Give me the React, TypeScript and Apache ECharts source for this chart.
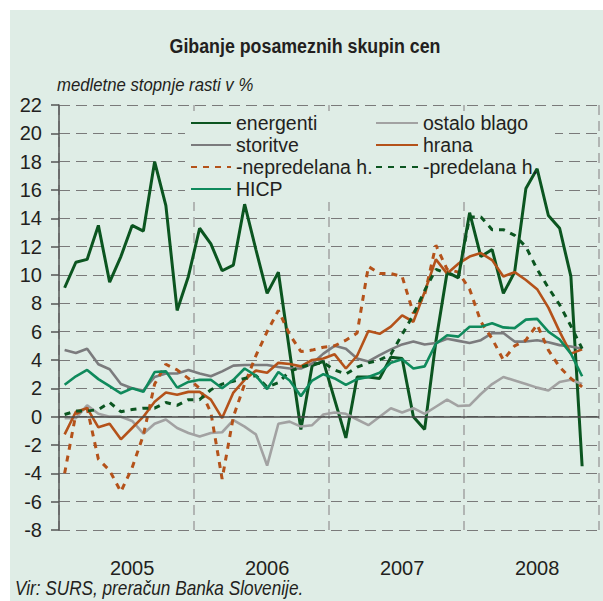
import React, { useEffect, useRef } from "react";
import * as echarts from "echarts";

const YEARS = ["2005", "2006", "2007", "2008"];
const MONTHS = ["01", "02", "03", "04", "05", "06", "07", "08", "09", "10", "11", "12"];
const CATEGORIES = YEARS.flatMap((y) => MONTHS.map((m) => `${y}-${m}`));

const ENERGENTI = [
  9.1, 10.9, 11.1, 13.5, 9.5, 11.3, 13.5, 13.1, 18.0, 14.9, 7.5, 9.9,
  13.3, 12.2, 10.3, 10.7, 15.0, 11.8, 8.7, 10.2, 4.6, -0.9, 3.6, 3.9,
  1.2, -1.5, 2.8, 2.8, 2.7, 4.2, 4.1, 0.0, -0.9, 5.3, 10.2, 9.8,
  14.4, 11.3, 11.8, 8.7, 10.2, 16.1, 17.5, 14.2, 13.3, 9.9, -3.5,
];
const OSTALO_BLAGO = [
  -0.1, -0.1, 0.8, 0.2, 0.0, 0.0, -0.3, -1.2, -0.5, -0.2, -0.8, -1.15,
  -1.4, -1.15, -1.1, -0.25, -0.7, -1.25, -3.45, -0.5, -0.35, -0.7, -0.6, 0.15,
  0.3, 0.2, -0.2, -0.6, 0.0, 0.6, 0.3, 0.6, 0.2, 0.7, 1.2, 0.75,
  0.8, 1.6, 2.3, 2.8, 2.55, 2.3, 2.05, 1.85, 2.45, 2.6, 2.3,
];
const STORITVE = [
  4.7, 4.5, 4.8, 3.7, 3.35, 2.3, 2.0, 1.85, 2.8, 3.05, 3.05, 3.3,
  3.05, 2.85, 3.2, 3.6, 3.65, 3.65, 3.65, 3.5, 3.4, 3.4, 3.75, 4.45,
  5.0, 4.8, 4.1, 3.9, 4.35, 4.75, 5.1, 5.3, 5.1, 5.2, 5.5, 5.35,
  5.2, 5.4, 5.9, 5.9, 5.3, 5.3, 5.4, 5.25, 5.05, 4.95, 4.8,
];
const HRANA = [
  -1.25, 0.35, 0.6, -0.75, -0.5, -1.6, -0.8, 0.0, 1.05, 1.7, 1.55, 1.75,
  1.75, 1.2, -0.1, 1.7, 2.6, 3.25, 3.1, 3.8, 3.72, 3.55, 4.0, 4.1,
  4.4, 3.4, 4.3, 6.05, 5.85, 6.35, 7.15, 6.7, 8.8, 11.1, 10.1, 10.8,
  11.3, 11.55, 11.05, 9.9, 10.2, 9.65, 9.0, 7.7, 6.0, 4.45, 4.75,
];
const NEPREDELANA_H = [
  -4.0, 0.2, 0.6, -3.0, -3.8, -5.3, -3.6, -1.3, 2.3, 3.7, 3.3, 2.7,
  2.0, 0.3, -4.4, 0.0, 2.3, 4.3, 6.0, 7.5, 5.8, 4.6, 4.7, 4.9,
  5.0, 5.4, 5.9, 10.6, 10.1, 10.1, 9.9, 7.3, 8.6, 12.1, 10.4, 10.2,
  9.0, 6.7, 5.5, 4.0, 5.0, 5.4, 6.5, 4.7, 3.5, 2.7, 2.1,
];
const PREDELANA_H = [
  0.15, 0.4, 0.4, 0.5, 1.0, 0.35, 0.5, 0.6, 0.6, 1.0, 0.8, 1.2,
  1.2, 1.9, 2.3, 2.5, 2.7, 2.9, 2.1, 2.4, 3.2, 3.5, 3.7, 3.8,
  3.3, 3.0, 3.5, 3.8, 4.0, 4.4, 5.8, 7.2, 8.9, 10.4, 10.1, 9.9,
  14.1, 14.1, 13.2, 13.2, 12.8, 12.0, 10.4, 9.1, 7.9, 6.4, 4.8,
];
const HICP = [
  2.25, 2.85, 3.3, 2.65, 2.15, 1.65, 2.0, 1.75, 3.15, 3.2, 2.05, 2.45,
  2.6, 2.6, 2.0, 2.6, 3.4, 2.9, 1.95, 3.15, 2.55, 1.45, 2.55, 3.0,
  2.7, 2.25, 2.65, 2.8, 3.1, 3.8, 4.05, 3.4, 3.55, 5.15, 5.75, 5.65,
  6.35, 6.35, 6.6, 6.3, 6.25, 6.85, 6.9, 6.0, 5.45, 4.45, 2.85,
];

const Y_MIN = -8;
const Y_MAX = 22;
const Y_STEP = 2;

const TITLE = "Gibanje posameznih skupin cen";
const SUBTITLE = "medletne stopnje rasti v %";
const SOURCE = "Vir: SURS, preračun Banka Slovenije.";

const PANEL = "#dfede6";
const FONT = '"Liberation Sans", Arial, Helvetica, sans-serif';
const TEXT = "#231f20";
const DARK_GREEN = "#0b5520";
const ORANGE = "#b4521a";

export default function App() {
  const ref = useRef<HTMLDivElement>(null);
  useEffect(() => {
    document.body.style.margin = "0";
    if (!ref.current) return;
    const chart = echarts.init(ref.current, null, { renderer: "svg" });

    const mk = (name: string, data: number[], color: string, width: number, type: any, extra: any = {}) => ({
      name,
      type: "line",
      data,
      symbol: "none",
      color,
      lineStyle: { color, width, type, cap: "butt" },
      itemStyle: { color },
      emphasis: { disabled: true },
      silent: true,
      ...extra,
    });

    const legendText = { fontSize: 19.5, color: TEXT, fontFamily: FONT, lineHeight: 22 };
    const hiddenSymbol = { opacity: 0, color: "rgba(0,0,0,0)", borderColor: "rgba(0,0,0,0)", borderWidth: 0 };

    chart.setOption({
      animation: false,
      backgroundColor: PANEL,
      textStyle: { fontFamily: FONT },
      grid: { left: 59, right: 4, top: 105, bottom: 71, containLabel: false },
      xAxis: [
        {
          type: "category",
          data: CATEGORIES,
          boundaryGap: true,
          position: "bottom",
          axisLine: { show: false, onZero: false },
          axisTick: { show: false },
          splitLine: { show: false },
          axisLabel: {
            interval: (i: number) => i % 12 === 6,
            formatter: (v: string) => v.slice(0, 4),
            fontSize: 20,
            color: TEXT,
            margin: 28,
            fontFamily: FONT,
          },
        },
        {
          type: "value",
          min: 0,
          max: 48,
          interval: 12,
          position: "top",
          axisLine: { show: false, onZero: false },
          axisTick: { show: false },
          axisLabel: { show: false },
          splitLine: { show: true, lineStyle: { color: "#a3a3a3", width: 1.5, type: [10, 6] } },
        },
      ],
      yAxis: {
        type: "value",
        min: Y_MIN,
        max: Y_MAX,
        interval: Y_STEP,
        axisLine: { show: true, onZero: false, lineStyle: { color: "#555", width: 1.5 } },
        axisTick: { show: true, length: 8, lineStyle: { color: "#555", width: 1.5 } },
        axisLabel: { fontSize: 20, color: TEXT, margin: 17, fontFamily: FONT },
        splitLine: { show: true, lineStyle: { color: "#7a7a7a", width: 1.2, type: [11, 6] } },
      },
      legend: [
        {
          data: ["energenti", "storitve", "-nepredelana h.", "HICP"],
          orient: "vertical",
          left: 190,
          top: 112,
          padding: 0,
          itemGap: 0,
          itemWidth: 40,
          itemHeight: 14,
          textStyle: legendText,
          itemStyle: hiddenSymbol,
          selectedMode: false,
        },
        {
          data: ["ostalo blago", "hrana", "-predelana h."],
          orient: "vertical",
          left: 375,
          top: 112,
          padding: 0,
          itemGap: 0,
          itemWidth: 42,
          itemHeight: 14,
          textStyle: legendText,
          itemStyle: hiddenSymbol,
          selectedMode: false,
        },
      ],
      graphic: [
        { type: "rect", shape: { x: 0, y: 0, width: 603, height: 10 }, style: { fill: "#ffffff" }, silent: true },
        { type: "rect", shape: { x: 0, y: 0, width: 10, height: 601 }, style: { fill: "#ffffff" }, silent: true },
        { type: "rect", shape: { x: 185, y: 111, width: 370, height: 91 }, style: { fill: PANEL }, z: 1, silent: true },
        {
          type: "text",
          x: 305,
          y: 46,
          scaleX: 0.89,
          style: { text: TITLE, font: `bold 20px ${FONT}`, fill: TEXT, align: "center", verticalAlign: "middle", textAlign: "center", textVerticalAlign: "middle" },
        },
        {
          type: "text",
          x: 57,
          y: 85,
          scaleX: 0.93,
          style: { text: SUBTITLE, font: `italic 18px ${FONT}`, fill: TEXT, align: "left", verticalAlign: "middle", textAlign: "left", textVerticalAlign: "middle" },
        },
        {
          type: "text",
          x: 15,
          y: 588,
          scaleX: 0.86,
          style: { text: SOURCE, font: `italic 20px ${FONT}`, fill: TEXT, align: "left", verticalAlign: "middle", textAlign: "left", textVerticalAlign: "middle" },
        },
      ],
      series: [
        mk("energenti", ENERGENTI, DARK_GREEN, 3, "solid", {
          markLine: {
            silent: true,
            symbol: "none",
            label: { show: false },
            lineStyle: { color: "#4a4a4a", type: "solid", width: 1.5 },
            data: [{ yAxis: 0 }],
          },
        }),
        mk("ostalo blago", OSTALO_BLAGO, "#a2a2a2", 2.6, "solid"),
        mk("storitve", STORITVE, "#7b7b7d", 2.6, "solid"),
        mk("hrana", HRANA, ORANGE, 2.6, "solid"),
        mk("-nepredelana h.", NEPREDELANA_H, ORANGE, 3, [6, 6]),
        mk("-predelana h.", PREDELANA_H, DARK_GREEN, 3, [6, 6]),
        mk("HICP", HICP, "#0f8a5c", 2.6, "solid"),
      ],
    });
    return () => chart.dispose();
  }, []);
  return <div ref={ref} style={{ width: 603, height: 601 }} />;
}
